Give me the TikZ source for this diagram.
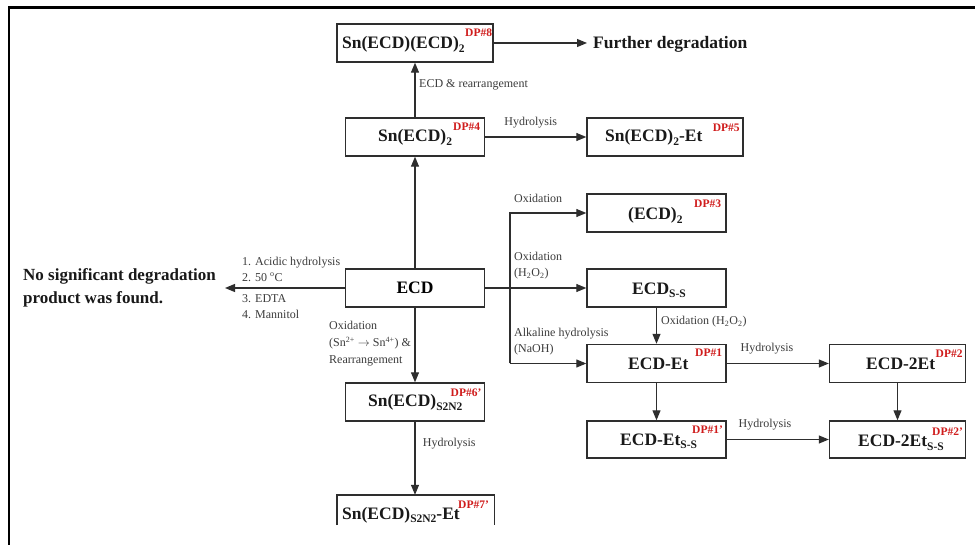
\documentclass[tikz,border=0pt]{standalone}
\usepackage{fontspec}
\setmainfont{Liberation Serif}
\usetikzlibrary{arrows.meta}
\definecolor{dpred}{HTML}{D01C1C}
\definecolor{lblgray}{HTML}{3C3C3C}
\definecolor{linegray}{HTML}{2E2E2E}
\newcommand\sbs[1]{\raisebox{-3.5pt}{\fontsize{11.5}{11.5}\selectfont #1}}
\begin{document}
\begin{tikzpicture}[x=1pt,y=-1pt,
  box/.style={draw=linegray, line width=1.4pt, minimum width=139pt, minimum height=38pt, inner sep=0pt},
  main/.style={font=\fontsize{17.5}{21}\selectfont\bfseries, inner sep=0pt, anchor=base west, text=black!90},
  dp/.style={font=\fontsize{11.5}{11.5}\selectfont\bfseries, text=dpred, inner sep=0pt, anchor=west},
  lbl/.style={font=\fontsize{12}{16}\selectfont, text=lblgray, inner sep=0pt, align=left},
  arr/.style={draw=linegray, line width=1.1pt, line join=miter, -{Triangle[length=10pt,width=8pt]}},
  ln/.style={draw=linegray, line width=1.4pt}]
\useasboundingbox (0,0) rectangle (975,545);
\fill[white] (0,0) rectangle (975,545);
\draw[line width=2.6pt, black] (9,545) -- (9,7.8) -- (975,7.8);

% boxes and texts
\node[box, minimum width=156pt] (b8) at (415,43) {};
\node[main] (t8) at (342,49) {Sn(ECD)(ECD)\sbs{2}};
\node[dp] (d8) at (465,33) {DP\#8};
\node[main] (fur) at (593,49) {Further degradation};

\node[box] (b4) at (415,137) {};
\node[main] (t4) at (378,142) {Sn(ECD)\sbs{2}};
\node[dp] (d4) at (453,127) {DP\#4};

\node[box, minimum width=156pt] (b5) at (665,137) {};
\node[main] (t5) at (605,142) {Sn(ECD)\sbs{2}-Et};
\node[dp] (d5) at (712.7,128) {DP\#5};

\node[box, font=\fontsize{17.5}{21}\selectfont\bfseries] (ecd) at (415,288) {ECD};

\node[box] (b3) at (656.5,213) {};
\node[main] (t3) at (628,220) {(ECD)\sbs{2}};
\node[dp] (d3) at (694,204) {DP\#3};

\node[box] (bss) at (656.5,288) {};
\node[main] (tss) at (632,294.3) {ECD\sbs{S-S}};

\node[box] (b1) at (656.5,363.5) {};
\node[main] (t1) at (628,369.5) {ECD-Et};
\node[dp] (d1) at (695,353) {DP\#1};

\node[box, minimum width=136pt] (b2) at (897.5,363.5) {};
\node[main] (t2) at (866,370) {ECD-2Et};
\node[dp] (d2) at (935.5,354) {DP\#2};

\node[box] (b6) at (415,402) {};
\node[main] (t6) at (368,406.7) {Sn(ECD)\sbs{S2N2}};
\node[dp] (d6) at (450.5,393) {DP\#6'};

\node[draw=none, minimum width=157pt, minimum height=30pt, inner sep=0pt] (b7) at (415.5,510) {};
\draw[ln] (b7.south west) -- (b7.north west) -- (b7.north east) -- (b7.south east);
\node[main] (t7) at (342,519) {Sn(ECD)\sbs{S2N2}-Et};
\node[dp] (d7) at (458,505) {DP\#7'};

\node[box, minimum height=37pt] (b1p) at (656.5,439.5) {};
\node[main] (t1p) at (620,445) {ECD-Et\sbs{S-S}};
\node[dp] (d1p) at (692,430) {DP\#1'};

\node[box, minimum width=136pt, minimum height=37pt] (b2p) at (897.5,439.5) {};
\node[main] (t2p) at (858,446.5) {ECD-2Et\sbs{S-S}};
\node[dp] (d2p) at (932,432) {DP\#2'};

\node[font=\fontsize{17}{22.5}\selectfont\bfseries, align=left, inner sep=0pt, anchor=west, text=black!90] (nosig) at (23,288) {No significant degradation\\product was found.};
\coordinate (nstip) at (225,288);

% connectors
\draw[arr, shorten >=6pt] (b8.east) -- (b8.east -| fur.west);
\draw[arr] (b4.north) -- (b4.north |- b8.south);
\draw[arr] (b4.east) -- (b5.west);
\draw[arr] (ecd.north) -- (b4.south);
\draw[arr] (ecd.west) -- (nstip);
\draw[arr] (ecd.south) -- (b6.north);
\draw[arr] (b6.south) -- (b6.south |- b7.north);
\draw[arr] (ecd.east) -- (bss.west);
\coordinate (jx) at (510,288);
\draw[arr] (jx |- b1.west) -- (jx |- b3.west) -- (b3.west);
\draw[arr] (jx |- b1.west) -- (b1.west);
\draw[arr] (bss.south) -- (b1.north);
\draw[arr] (b1.east) -- (b2.west);
\draw[arr] (b1.south) -- (b1p.north);
\draw[arr] (b2.south) -- (b2p.north);
\draw[arr] (b1p.east) -- (b2p.west);

% labels
\node[lbl, anchor=west] (l1) at (419,85) {ECD \& rearrangement};
\node[lbl] (l2) at (530.7,123) {Hydrolysis};
\node[lbl, anchor=west] (l3) at (242,269) {1. Acidic hydrolysis\\2. 50 \textsuperscript{o}C};
\node[lbl, anchor=west] (l4) at (242,307) {3. EDTA\\4. Mannitol};
\node[lbl, anchor=west, font=\fontsize{12}{17}\selectfont] (l5) at (329,344) {Oxidation\\(Sn\textsuperscript{2+} $\rightarrow$ Sn\textsuperscript{4+}) \&\\Rearrangement};
\node[lbl, anchor=west] (l6) at (514,198) {Oxidation};
\node[lbl, anchor=west] (l7) at (514,266) {Oxidation\\(H\textsubscript{2}O\textsubscript{2})};
\node[lbl, anchor=west] (l8) at (661,322) {Oxidation (H\textsubscript{2}O\textsubscript{2})};
\node[lbl, anchor=west] (l9) at (514,341.5) {Alkaline hydrolysis\\(NaOH)};
\node[lbl] (l10) at (767,349) {Hydrolysis};
\node[lbl, anchor=west] (l11) at (422.7,444) {Hydrolysis};
\node[lbl] (l12) at (765,425) {Hydrolysis};
\end{tikzpicture}
\end{document}
